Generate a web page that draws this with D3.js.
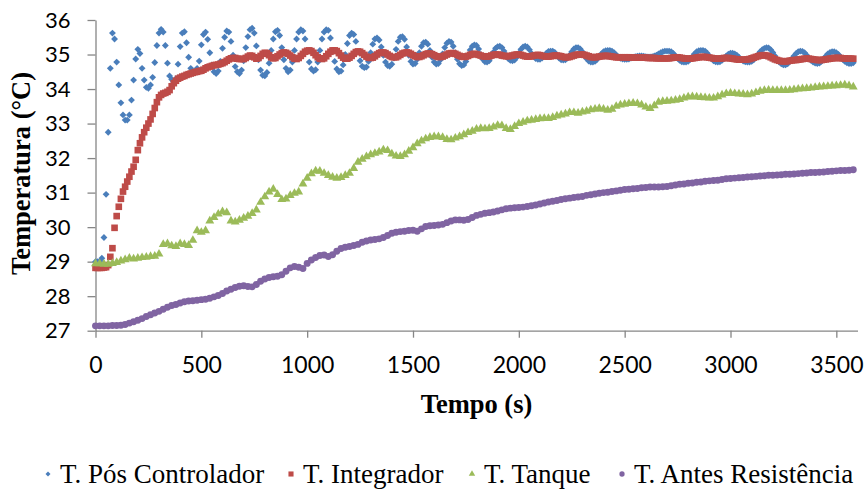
<!DOCTYPE html>
<meta charset="utf-8" />
<script src="https://d3js.org/d3.v7.min.js"></script>
<style>
  body {
    margin: 0;
    background: #ffffff;
  }
  .tick text {
    font-family: Lato, "Open Sans", sans-serif;
    fill: #000;
  }
  .axis path,
  .axis line {
    stroke: #868686;
    stroke-width: 1.3;
  }
</style>
<body>
  <div id="chart"></div>
  <script>
    // logger sampled every 10 s (controller + integrator) and every 20 s (tank + resistance)
    var stepFast = 10,
      stepSlow = 20;

    // T. Pós Controlador, one row = 100 s
    var posControlador = [
      29.0, 29.0, 29.0, 29.1, 29.7, 30.95, 32.75, 34.6, 35.62, 35.45,
      34.78, 34.12, 33.6, 33.25, 33.1, 33.1, 33.25, 33.68, 34.26, 34.87,
      35.15, 35.03, 34.6, 34.26, 34.05, 34.02, 34.12, 34.34, 34.77, 35.26,
      35.62, 35.73, 35.65, 35.26, 34.75, 34.38, 34.28, 34.21, 34.3, 34.72,
      35.23, 35.62, 35.66, 35.34, 34.92, 34.6, 34.5, 34.48, 34.6, 34.81,
      35.28, 35.58, 35.65, 35.44, 35.05, 34.7, 34.5, 34.45, 34.52, 34.8,
      35.18, 35.5, 35.68, 35.65, 35.38, 34.98, 34.65, 34.5, 34.45, 34.55,
      34.82, 35.2, 35.52, 35.72, 35.76, 35.62, 35.25, 34.85, 34.55, 34.4,
      34.38, 34.48, 34.75, 35.12, 35.45, 35.66, 35.7, 35.55, 35.2, 34.85,
      34.6, 34.5, 34.55, 34.78, 35.12, 35.45, 35.65, 35.72, 35.68, 35.45,
      35.1, 34.78, 34.58, 34.52, 34.56, 34.78, 35.12, 35.45, 35.65, 35.72,
      35.7, 35.48, 35.12, 34.8, 34.58, 34.5, 34.52, 34.7, 35.0, 35.32,
      35.55, 35.62, 35.58, 35.38, 35.08, 34.82, 34.66, 34.62, 34.64, 34.8,
      35.05, 35.3, 35.45, 35.48, 35.42, 35.22, 34.98, 34.78, 34.68, 34.66,
      34.72, 34.9, 35.15, 35.38, 35.5, 35.52, 35.44, 35.22, 34.98, 34.8,
      34.72, 34.74, 34.86, 35.05, 35.24, 35.34, 35.36, 35.3, 35.12, 34.92,
      34.78, 34.72, 34.74, 34.85, 35.02, 35.2, 35.33, 35.38, 35.36, 35.24,
      35.05, 34.86, 34.73, 34.68, 34.7, 34.8, 34.96, 35.13, 35.24, 35.28,
      35.26, 35.16, 35.0, 34.86, 34.79, 34.78, 34.82, 34.94, 35.07, 35.18,
      35.23, 35.24, 35.2, 35.1, 34.98, 34.88, 34.83, 34.82, 34.84, 34.92,
      35.04, 35.15, 35.22, 35.24, 35.22, 35.14, 35.03, 34.94, 34.88, 34.86,
      34.86, 34.9, 34.97, 35.04, 35.09, 35.1, 35.1, 35.06, 34.98, 34.9,
      34.85, 34.84, 34.85, 34.9, 34.98, 35.08, 35.16, 35.2, 35.2, 35.16,
      35.08, 34.98, 34.88, 34.81, 34.78, 34.78, 34.8, 34.86, 34.94, 35.02,
      35.08, 35.11, 35.12, 35.12, 35.1, 35.05, 34.99, 34.93, 34.89, 34.87,
      34.86, 34.86, 34.87, 34.9, 34.92, 34.94, 34.95, 34.96, 34.96, 34.95,
      34.94, 34.93, 34.93, 34.94, 34.96, 34.98, 35.02, 35.05, 35.08, 35.1,
      35.1, 35.1, 35.08, 35.03, 34.96, 34.89, 34.83, 34.79, 34.78, 34.78,
      34.8, 34.86, 34.94, 35.02, 35.08, 35.11, 35.12, 35.12, 35.1, 35.04,
      34.96, 34.88, 34.82, 34.79, 34.78, 34.79, 34.83, 34.9, 34.96, 35.01,
      35.04, 35.04, 35.02, 34.98, 34.92, 34.86, 34.81, 34.79, 34.78, 34.78,
      34.8, 34.85, 34.92, 35.0, 35.08, 35.14, 35.18, 35.2, 35.19, 35.14,
      35.06, 34.96, 34.86, 34.78, 34.73, 34.7, 34.7, 34.73, 34.8, 34.88,
      34.96, 35.03, 35.08, 35.1, 35.09, 35.05, 34.98, 34.9, 34.83, 34.78,
      34.75, 34.74, 34.75, 34.8, 34.87, 34.95, 35.02, 35.06, 35.08, 35.08,
      35.05, 35.0, 34.93, 34.86, 34.8, 34.76, 34.74, 34.74, 34.76
    ];

    // T. Integrador, one row = 100 s
    var integrador = [
      28.82, 28.82, 28.82, 28.82, 28.83, 28.84, 28.9, 29.14, 29.39, 29.98,
      30.32, 30.59, 30.82, 31.03, 31.17, 31.32, 31.46, 31.61, 31.75, 31.95,
      32.23, 32.43, 32.6, 32.75, 32.88, 33.0, 33.12, 33.28, 33.45, 33.62,
      33.76, 33.83, 33.87, 33.89, 33.92, 33.97, 34.08, 34.17, 34.24, 34.3,
      34.33, 34.36, 34.38, 34.41, 34.43, 34.45, 34.47, 34.49, 34.5, 34.52,
      34.53, 34.56, 34.6, 34.63, 34.65, 34.67, 34.69, 34.7, 34.71, 34.73,
      34.75, 34.78, 34.82, 34.86, 34.89, 34.9, 34.9, 34.88, 34.87, 34.87,
      34.87, 34.9, 34.94, 34.97, 34.96, 34.92, 34.88, 34.9, 34.96, 35.02,
      35.05, 35.04, 34.98, 34.92, 34.89, 34.9, 34.95, 35.0, 35.04, 35.06,
      35.05, 35.02, 34.97, 34.92, 34.88, 34.87, 34.9, 34.96, 35.02, 35.08,
      35.11, 35.12, 35.1, 35.05, 34.98, 34.92, 34.88, 34.87, 34.89, 34.95,
      35.02, 35.08, 35.12, 35.12, 35.1, 35.04, 34.97, 34.91, 34.88, 34.88,
      34.91, 34.96, 35.02, 35.07, 35.09, 35.08, 35.04, 34.99, 34.94, 34.91,
      34.9, 34.91, 34.95, 35.0, 35.04, 35.06, 35.06, 35.04, 35.0, 34.96,
      34.93, 34.92, 34.92, 34.95, 34.99, 35.03, 35.05, 35.06, 35.05, 35.02,
      34.98, 34.95, 34.93, 34.93, 34.95, 34.98, 35.01, 35.03, 35.03, 35.01,
      34.98, 34.95, 34.93, 34.93, 34.94, 34.97, 35.0, 35.03, 35.04, 35.04,
      35.02, 34.99, 34.96, 34.94, 34.93, 34.94, 34.96, 34.99, 35.01, 35.02,
      35.01, 34.99, 34.97, 34.95, 34.94, 34.94, 34.95, 34.97, 34.99, 35.0,
      35.0, 34.99, 34.97, 34.96, 34.95, 34.95, 34.96, 34.97, 34.99, 35.0,
      35.0, 34.99, 34.97, 34.95, 34.94, 34.94, 34.95, 34.97, 34.98, 34.99,
      34.98, 34.96, 34.95, 34.94, 34.94, 34.95, 34.96, 34.97, 34.97, 34.96,
      34.95, 34.93, 34.92, 34.92, 34.93, 34.95, 34.97, 34.99, 35.0, 35.0,
      35.0, 34.99, 34.97, 34.95, 34.93, 34.92, 34.92, 34.93, 34.94, 34.95,
      34.96, 34.96, 34.96, 34.95, 34.94, 34.93, 34.92, 34.92, 34.92, 34.92,
      34.92, 34.92, 34.92, 34.91, 34.91, 34.91, 34.91, 34.91, 34.91, 34.91,
      34.91, 34.9, 34.9, 34.9, 34.9, 34.89, 34.89, 34.89, 34.89, 34.89,
      34.89, 34.89, 34.9, 34.91, 34.92, 34.92, 34.91, 34.9, 34.89, 34.88,
      34.88, 34.88, 34.89, 34.9, 34.91, 34.92, 34.93, 34.93, 34.93, 34.92,
      34.91, 34.9, 34.89, 34.88, 34.88, 34.88, 34.89, 34.9, 34.9, 34.9,
      34.89, 34.88, 34.87, 34.86, 34.85, 34.85, 34.85, 34.85, 34.86, 34.87,
      34.89, 34.91, 34.93, 34.95, 34.97, 34.98, 34.98, 34.97, 34.95, 34.92,
      34.89, 34.86, 34.84, 34.82, 34.81, 34.8, 34.8, 34.81, 34.82, 34.83,
      34.84, 34.84, 34.85, 34.86, 34.87, 34.88, 34.88, 34.88, 34.87, 34.86,
      34.85, 34.84, 34.84, 34.84, 34.85, 34.86, 34.87, 34.88, 34.89, 34.9,
      34.9, 34.9, 34.9, 34.89, 34.89, 34.88, 34.88, 34.88, 34.88
    ];

    // T. Tanque, one row = 200 s
    var tanque = [
      28.94, 28.94, 28.93, 28.93, 28.95, 28.98, 29.02, 29.06, 29.1, 29.08,
      29.1, 29.12, 29.13, 29.15, 29.16, 29.22, 29.5, 29.52, 29.46, 29.44,
      29.52, 29.5, 29.47, 29.62, 29.9, 29.85, 29.9, 30.18, 30.28, 30.38,
      30.45, 30.42, 30.18, 30.15, 30.2, 30.26, 30.32, 30.4, 30.5, 30.72,
      30.88, 31.02, 31.1, 30.95, 30.8, 30.82, 30.92, 30.98, 31.02, 31.25,
      31.42, 31.55, 31.63, 31.62, 31.56, 31.5, 31.45, 31.42, 31.44, 31.5,
      31.56, 31.7, 31.88, 31.97, 32.04, 32.1, 32.14, 32.18, 32.24, 32.22,
      32.12, 32.06, 32.05, 32.1, 32.2, 32.3, 32.42, 32.5, 32.56, 32.6,
      32.62, 32.62, 32.6, 32.54, 32.53, 32.58, 32.62, 32.68, 32.74, 32.78,
      32.84, 32.86, 32.85, 32.86, 32.9, 32.95, 32.94, 32.86, 32.83, 32.92,
      33.0, 33.04, 33.08, 33.1, 33.12, 33.14, 33.15, 33.15, 33.18, 33.22,
      33.25, 33.28, 33.32, 33.32, 33.3, 33.34, 33.36, 33.4, 33.42, 33.44,
      33.42, 33.39, 33.42, 33.5, 33.54, 33.56, 33.58, 33.59, 33.58, 33.54,
      33.48, 33.44, 33.52, 33.62, 33.64, 33.65, 33.66, 33.68, 33.7, 33.74,
      33.77, 33.78, 33.77, 33.76, 33.75, 33.74, 33.74, 33.78, 33.83, 33.87,
      33.88, 33.87, 33.86, 33.85, 33.84, 33.86, 33.9, 33.94, 33.96, 33.97,
      33.96, 33.96, 33.96, 33.96, 33.97, 33.98, 34.0, 34.01, 34.02, 34.03,
      34.05, 34.06, 34.07, 34.08, 34.09, 34.1, 34.11, 34.12, 34.1, 34.06
    ];

    // T. Antes Resistência, one row = 200 s
    var antesResistencia = [
      27.14, 27.14, 27.14, 27.14, 27.15, 27.15, 27.16, 27.18, 27.22, 27.26,
      27.3, 27.35, 27.41, 27.46, 27.51, 27.56, 27.62, 27.68, 27.73, 27.76,
      27.8, 27.84, 27.86, 27.87, 27.88, 27.9, 27.91, 27.94, 27.98, 28.02,
      28.08, 28.15, 28.2, 28.25, 28.29, 28.3, 28.28, 28.27, 28.34, 28.43,
      28.5, 28.54, 28.56, 28.58, 28.62, 28.72, 28.82, 28.86, 28.84, 28.8,
      28.95, 29.05, 29.12, 29.18, 29.19, 29.15, 29.2, 29.3, 29.38, 29.42,
      29.44, 29.47, 29.5, 29.56, 29.6, 29.63, 29.64, 29.66, 29.7, 29.76,
      29.82, 29.85, 29.87, 29.88, 29.9, 29.91, 29.88, 29.95, 30.02, 30.04,
      30.05, 30.06, 30.08, 30.13, 30.18, 30.21, 30.21, 30.2, 30.22, 30.28,
      30.34, 30.37, 30.4, 30.42, 30.44, 30.47, 30.5, 30.53, 30.55, 30.56,
      30.57, 30.58, 30.6, 30.62, 30.64, 30.67, 30.7, 30.73, 30.75, 30.77,
      30.8, 30.82, 30.84, 30.86, 30.87, 30.89, 30.92, 30.94, 30.96, 30.98,
      31.0, 31.01, 31.03, 31.05, 31.07, 31.09, 31.1, 31.11, 31.12, 31.14,
      31.15, 31.16, 31.16, 31.16, 31.17, 31.18, 31.2, 31.22, 31.24, 31.25,
      31.27, 31.28, 31.3, 31.31, 31.33, 31.34, 31.35, 31.36, 31.38, 31.4,
      31.41, 31.42, 31.43, 31.44, 31.45, 31.46, 31.47, 31.48, 31.49, 31.5,
      31.5, 31.51, 31.52, 31.53, 31.53, 31.54, 31.55, 31.56, 31.57, 31.58,
      31.58, 31.59, 31.6, 31.61, 31.62, 31.63, 31.64, 31.64, 31.65, 31.66
    ];

    var xTicks = [0, 500, 1000, 1500, 2000, 2500, 3000, 3500];
    var yTicks = [27, 28, 29, 30, 31, 32, 33, 34, 35, 36];

    var series = [
      { name: "T. Pós Controlador", values: posControlador, step: stepFast, color: "#4a7ebb", shape: d3.symbolDiamond2, size: 30, legendSize: 16 },
      { name: "T. Integrador", values: integrador, step: stepFast, color: "#be4b48", shape: d3.symbolSquare, size: 44, legendSize: 26 },
      { name: "T. Tanque", values: tanque, step: stepSlow, color: "#9bbb59", shape: d3.symbolTriangle, size: 34, legendSize: 18 },
      { name: "T. Antes Resistência", values: antesResistencia, step: stepSlow, color: "#8064a2", shape: d3.symbolCircle, size: 38, legendSize: 22 }
    ];

    var width = 866,
      height = 492;

    var svg = d3
      .select("#chart")
      .append("svg")
      .attr("width", width)
      .attr("height", height);

    var x = d3.scaleLinear().domain([0, 3600]).range([95.5, 857.5]);
    var y = d3.scaleLinear().domain([27, 36]).range([330.7, 20]);

    // y axis
    var gy = svg
      .append("g")
      .attr("class", "axis")
      .attr("transform", "translate(" + x(0) + ",0)")
      .call(
        d3.axisLeft(y).tickValues(yTicks).tickFormat(d3.format("d"))
          .tickSize(8).tickSizeOuter(0).tickPadding(17)
      );
    gy.selectAll(".tick text").style("font-size", "22px");

    // x axis
    var gx = svg
      .append("g")
      .attr("class", "axis")
      .attr("transform", "translate(0," + y(27) + ")")
      .call(
        d3.axisBottom(x).tickValues(xTicks).tickFormat(d3.format("d"))
          .tickSize(7).tickSizeOuter(0).tickPadding(19)
      );
    gx.selectAll(".tick text").style("font-size", "23px");

    // markers
    series.forEach(function(s) {
      var pts = s.values.map(function(v, i) {
        return { t: i * s.step, v: v };
      });
      svg
        .append("g")
        .selectAll("path")
        .data(pts)
        .enter()
        .append("path")
        .attr("d", d3.symbol().type(s.shape).size(s.size))
        .attr("transform", function(d) {
          return "translate(" + x(d.t) + "," + y(d.v) + ")";
        })
        .attr("fill", s.color);
    });

    // axis titles
    svg
      .append("text")
      .attr("transform", "translate(29.5," + 173.5 + ") rotate(-90)")
      .attr("text-anchor", "middle")
      .style("font-family", "'Liberation Serif', 'Times New Roman', serif")
      .style("font-weight", "bold")
      .style("font-size", "26.5px")
      .text("Temperatura (°C)");

    svg
      .append("text")
      .attr("x", 476.5)
      .attr("y", 413)
      .attr("text-anchor", "middle")
      .style("font-family", "'Liberation Serif', 'Times New Roman', serif")
      .style("font-weight", "bold")
      .style("font-size", "26.5px")
      .text("Tempo (s)");

    // legend
    var legendX = [48, 291, 472, 622];
    var legend = svg
      .append("g")
      .selectAll("g")
      .data(series)
      .enter()
      .append("g")
      .attr("transform", function(d, i) {
        return "translate(" + legendX[i] + ",474)";
      });
    legend
      .append("path")
      .attr("d", function(d) {
        return d3.symbol().type(d.shape).size(d.legendSize)();
      })
      .attr("fill", function(d) {
        return d.color;
      });
    legend
      .append("text")
      .attr("x", 12)
      .attr("y", 8.5)
      .style("font-family", "'Liberation Serif', 'Times New Roman', serif")
      .style("font-size", "27px")
      .text(function(d) {
        return d.name;
      });
  </script>
</body>
